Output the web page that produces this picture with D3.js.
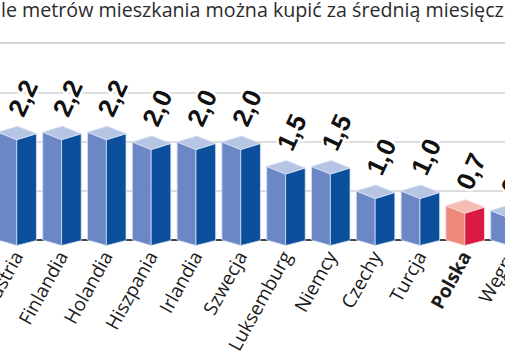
<!DOCTYPE html>
<html><head><meta charset="utf-8">
<script src="https://cdn.jsdelivr.net/npm/d3@7"></script>
<style>html,body{margin:0;padding:0;background:#fff;overflow:hidden}</style>
</head><body>
<svg id="c" width="505" height="360"></svg>
<script>
const titleText = "Ile metrów mieszkania można kupić za średnią miesięczną pensję";
const categories = ["Austria","Finlandia","Holandia","Hiszpania","Irlandia","Szwecja","Luksemburg","Niemcy","Czechy","Turcja","Polska","Węgry"];
const values = [2.2,2.2,2.2,2.0,2.0,2.0,1.5,1.5,1.0,1.0,0.7,0.6];
const highlight = ["Polska"];
const gridTicks = [1,2,3];

const svg = d3.select("#c");
const W = 505, H = 360;

const y = d3.scaleLinear().domain([0,3]).range([240,93]);
const step = 44.8, pi = 0.14, po = 0.07;
const r0 = -2.1 - po*step;
const x = d3.scaleBand().domain(categories).range([r0, r0 + step*categories.length]).paddingInner(pi).paddingOuter(po);

// title
const title = svg.append("text").attr("y",17).attr("font-family","Open Sans, sans-serif").attr("font-size",20).attr("fill","#2b2b2b").text(titleText);
const node = title.node();
const idxEnd = titleText.indexOf("miesięcz") + "miesięcz".length;
const partW = node.getSubStringLength(1, idxEnd-1);
const fs = 20 * 503 / partW;
title.attr("font-size", fs);
const iW2 = node.getSubStringLength(0,1);
title.attr("x", -iW2 + 1);

// separator
svg.append("line").attr("x1",0).attr("x2",W).attr("y1",43).attr("y2",43).attr("stroke","#c6c6c6").attr("stroke-width",1.5);

// gridlines
svg.append("g").selectAll("line").data(gridTicks).join("line")
  .attr("x1",0).attr("x2",W).attr("y1",d=>y(d)).attr("y2",d=>y(d))
  .attr("stroke","#d2d2d2").attr("stroke-width",1.5);

// baseline
svg.append("line").attr("x1",0).attr("x2",W).attr("y1",y(0)).attr("y2",y(0)).attr("stroke","#444").attr("stroke-width",1.8);

const fmt = v => d3.format(".1f")(v).replace(".", ",");
const data = categories.map((c,i)=>({c, v:values[i], hl: highlight.includes(c)}));

const bars = svg.append("g").selectAll("g").data(data).join("g");
bars.each(function(d){
  const g = d3.select(this);
  const L = x(d.c), Bw = x.bandwidth();
  const wl = Bw*0.49;
  const yt = y(d.v), y0 = y(0);
  const cols = d.hl ? {l:"#ee8a7b", r:"#da1a44", t:"#f6bcb3", s:"#f8d6d0"} : {l:"#6c87c5", r:"#0c4f9d", t:"#b7c5e4", s:"#d4e0f3"};
  const pts = a => a.map(p=>p.join(",")).join(" ");
  g.append("polygon").attr("points", pts([[L,yt],[L+wl,yt+7.5],[L+wl,y0+5.5],[L,y0]])).attr("fill",cols.l).attr("stroke",cols.s).attr("stroke-width",0.8);
  g.append("polygon").attr("points", pts([[L+wl,yt+7.5],[L+Bw,yt+1.5],[L+Bw,y0+0.5],[L+wl,y0+5.5]])).attr("fill",cols.r).attr("stroke",cols.s).attr("stroke-width",0.8);
  g.append("polygon").attr("points", pts([[L,yt],[L+wl,yt+7.5],[L+Bw,yt+1.5],[L+Bw-wl,yt-6]])).attr("fill",cols.t).attr("stroke",cols.s).attr("stroke-width",0.8);
});

// value labels
svg.append("g").selectAll("text").data(data).join("text")
  .attr("transform", d=>`translate(${x(d.c)+25.5},${y(d.v)-14}) rotate(-65)`)
  .attr("font-family","Liberation Sans, Arial, sans-serif").attr("font-weight","bold").attr("font-size",26)
  .attr("fill","#111").attr("stroke","#fff").attr("stroke-width",5).attr("paint-order","stroke").attr("stroke-linejoin","round")
  .text(d=>fmt(d.v));

// category labels
svg.append("g").selectAll("text").data(data).join("text")
  .attr("transform", d=>`translate(${x(d.c)+26},256) rotate(-61)`)
  .attr("text-anchor","end")
  .attr("font-family","Open Sans, sans-serif").attr("font-size",19)
  .attr("font-weight", d=>d.hl?"bold":"normal")
  .attr("fill","#1a1a1a")
  .text(d=>d.c);
</script>
</body></html>
